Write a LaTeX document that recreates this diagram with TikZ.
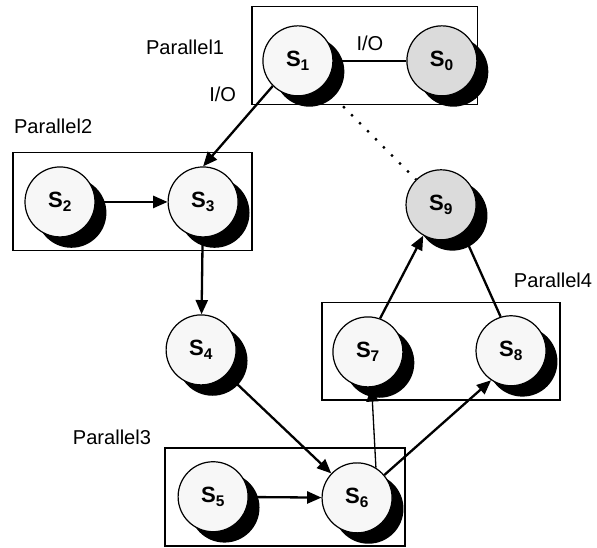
\documentclass[tikz,border=0pt]{standalone}
\usepackage{fontspec}
\setmainfont{Liberation Sans}
\usetikzlibrary{arrows.meta,shadows}

\tikzset{
  state/.style={draw, circle, line width=1.2pt, minimum size=2.45cm, inner sep=0pt,
    font=\fontsize{22}{24}\selectfont\bfseries,
    drop shadow={fill=black, opacity=1, shadow xshift=0.4cm, shadow yshift=-0.38cm}},
  parframe/.style={draw, line width=1.3pt},
  flow/.style={line width=2.3pt, -{Triangle[length=5mm, width=4.2mm]}},
  link/.style={line width=2.3pt},
  lbl/.style={font=\fontsize{20}{22}\selectfont, inner sep=0pt}
}

\begin{document}
\begin{tikzpicture}
\useasboundingbox (0,0) rectangle (20.9,19.18);

% --- parallel groups ---
  \draw[parframe] (8.82,15.51) rectangle (16.72,18.94);
  \draw[parframe] (0.46,10.40) rectangle (8.82,13.83);
  \draw[parframe] (5.78,0.07) rectangle (14.18,3.50);
  \draw[parframe] (11.27,5.18) rectangle (19.60,8.58);

  \node[lbl] (par1) at (6.48,17.53) {Parallel1};
  \node[lbl] (par2) at (1.86,14.74) {Parallel2};
  \node[lbl] (par3) at (3.92,3.88) {Parallel3};
  \node[lbl] (par4) at (19.36,9.38) {Parallel4};

% --- states ---
\foreach \n/\x/\y/\c in {0/15.47/17.05/gray!28, 1/10.43/17.05/gray!6,
    2/2.10/12.11/gray!6, 3/7.11/12.11/gray!6, 4/7.04/6.93/gray!6,
    5/7.46/1.79/gray!6, 6/12.50/1.75/gray!6, 7/12.88/6.86/gray!6,
    8/17.89/6.90/gray!6, 9/15.44/12.01/gray!28} {
    \node[state, fill=\c] (s\n) at (\x,\y) {S\textsubscript{\n}};
  }

% --- transitions ---
  \draw[link] (s1) -- (s0) node[lbl, midway, above=0.32cm] (io1) {I/O};
  \draw[flow] (s1.225) -- (s3.north) node[lbl, pos=0.1, left=1cm] (io2) {I/O};
  \draw[line width=2.3pt, dash pattern=on 2.3pt off 9pt, shorten <=1cm] (s1) -- (s9);
  \draw[flow] (s2) -- (s3);
  \draw[flow] (s3) -- (s4);
  \draw[flow] (s4) -- (s6);
  \draw[flow] (s5) -- (s6);
  \draw[flow, line width=1.3pt] (s6.58) -- (s7.-84);
  \draw[flow] (s6.40) -- (s8.-124);
  \draw[flow] (s7.70) -- (s9.-120);
  \draw[link] (s8.107) -- (s9.-52);
\end{tikzpicture}
\end{document}
